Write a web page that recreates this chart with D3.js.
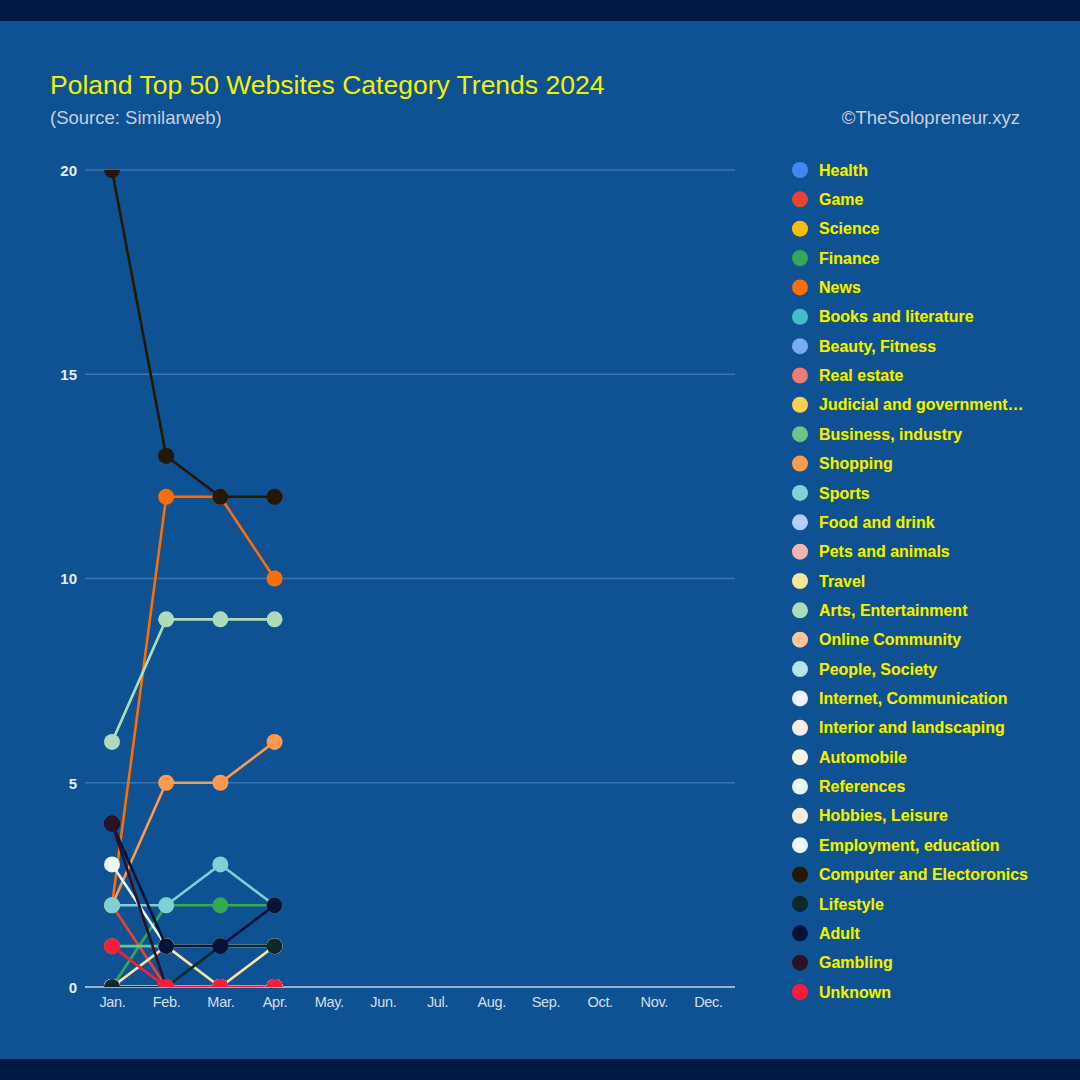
<!DOCTYPE html>
<html>
<head>
<meta charset="utf-8">
<script src="https://cdn.jsdelivr.net/npm/d3@7/dist/d3.min.js"></script>
<style>
  html, body { margin: 0; padding: 0; background: #001a45; }
  svg { display: block; }
</style>
</head>
<body>
<svg id="chart" width="1080" height="1080"></svg>
<script>
const months = ["Jan.", "Feb.", "Mar.", "Apr.", "May.", "Jun.", "Jul.", "Aug.", "Sep.", "Oct.", "Nov.", "Dec."];
const yTicks = [0, 5, 10, 15, 20];
const categories = [
  "Health", "Game", "Science", "Finance", "News", "Books and literature", "Beauty, Fitness",
  "Real estate", "Judicial and government\u2026", "Business, industry", "Shopping", "Sports",
  "Food and drink", "Pets and animals", "Travel", "Arts, Entertainment", "Online Community",
  "People, Society", "Internet, Communication", "Interior and landscaping", "Automobile",
  "References", "Hobbies, Leisure", "Employment, education", "Computer and Electoronics",
  "Lifestyle", "Adult", "Gambling", "Unknown"
];
const colors = [
  "#4285f4", "#ea4335", "#fbbc04", "#34a853", "#ff6d01", "#46bdc6", "#7baaf7",
  "#f07b72", "#fcd04f", "#71c287", "#ff994d", "#7ed1d7",
  "#b3cefb", "#f7b4ae", "#fde49b", "#aedcba", "#ffc599",
  "#b5e3e7", "#ecf3fe", "#fdeceb", "#fff8e6",
  "#e7f5ea", "#fff0e6", "#ecf8f9", "#261800",
  "#0c2a2c", "#081339", "#2b1224", "#ff1a35"
];
// values for Jan..Apr (later months have no data)
const values = [
  [0, 0, 0, 0],    // Health
  [2, 0, 0, 0],    // Game
  [0, 0, 0, 0],    // Science
  [0, 2, 2, 2],    // Finance
  [2, 12, 12, 10], // News
  [0, 0, 0, 0],    // Books and literature
  [0, 0, 0, 0],    // Beauty, Fitness
  [0, 0, 0, 0],    // Real estate
  [0, 0, 0, 0],    // Judicial
  [1, 1, 1, 1],    // Business, industry
  [2, 5, 5, 6],    // Shopping
  [2, 2, 3, 2],    // Sports
  [0, 0, 0, 0],    // Food and drink
  [0, 0, 0, 0],    // Pets and animals
  [0, 1, 0, 1],    // Travel
  [6, 9, 9, 9],    // Arts, Entertainment
  [0, 0, 0, 0],    // Online Community
  [0, 0, 0, 0],    // People, Society
  [0, 0, 0, 0],    // Internet, Communication
  [0, 0, 0, 0],    // Interior and landscaping
  [0, 0, 0, 0],    // Automobile
  [0, 0, 0, 0],    // References
  [0, 0, 0, 0],    // Hobbies, Leisure
  [3, 1, 1, 1],    // Employment, education
  [20, 13, 12, 12],// Computer and Electoronics
  [0, 0, 1, 1],    // Lifestyle
  [4, 1, 1, 2],    // Adult
  [4, 0, 0, 0],    // Gambling
  [1, 0, 0, 0]     // Unknown
];

const FONT = "Liberation Sans, Arial, sans-serif";
const svg = d3.select("#chart");
svg.append("rect").attr("x", 0).attr("y", 0).attr("width", 1080).attr("height", 1080).attr("fill", "#001a45");
svg.append("rect").attr("x", 0).attr("y", 21).attr("width", 1080).attr("height", 1038).attr("fill", "#0e5294");

const plot = { left: 85, right: 735, top: 170, bottom: 987 };
const x = d3.scalePoint().domain(months).range([112, 708]);
const y = d3.scaleLinear().domain([0, 20]).range([plot.bottom, plot.top]);

// Title
svg.append("text").attr("x", 50).attr("y", 94)
  .attr("font-family", FONT).attr("font-size", 26.5)
  .attr("fill", "#f2f200").text("Poland Top 50 Websites Category Trends 2024");
svg.append("text").attr("x", 50).attr("y", 124)
  .attr("font-family", FONT).attr("font-size", 18.5)
  .attr("fill", "#c5d0e0").text("(Source: Similarweb)");
svg.append("text").attr("x", 1020).attr("y", 124).attr("text-anchor", "end")
  .attr("font-family", FONT).attr("font-size", 18.5)
  .attr("fill", "#c5d0e0").text("\u00A9TheSolopreneur.xyz");

// grid
svg.append("g").selectAll("line").data(yTicks.filter(d => d !== 0)).join("line")
  .attr("x1", plot.left).attr("x2", plot.right)
  .attr("y1", d => y(d)).attr("y2", d => y(d))
  .attr("stroke", "#3a74ac").attr("stroke-width", 1.5);
svg.append("line").attr("x1", plot.left).attr("x2", plot.right)
  .attr("y1", y(0)).attr("y2", y(0)).attr("stroke", "#c3d3e6").attr("stroke-width", 1.5);

// y axis labels
const yAxis = d3.axisLeft(y).tickValues(yTicks).tickSize(0).tickPadding(0).tickFormat(d3.format("d"));
const gy = svg.append("g").attr("transform", `translate(77,0)`).call(yAxis);
gy.select(".domain").remove();
gy.selectAll("text").attr("font-family", FONT)
  .attr("font-size", 15).attr("font-weight", "bold").attr("fill", "#e6edf5").attr("dy", "0.35em");

// x axis labels
const xAxis = d3.axisBottom(x).tickSize(0).tickPadding(0);
const gx = svg.append("g").attr("transform", `translate(0,${plot.bottom + 10})`).call(xAxis);
gx.select(".domain").remove();
gx.selectAll("text").attr("font-family", FONT)
  .attr("font-size", 14.5).attr("fill", "#d5dfeb").attr("dy", "0.71em").attr("letter-spacing", "-0.3");

// clip
svg.append("clipPath").attr("id", "clip").append("rect")
  .attr("x", plot.left - 10).attr("y", plot.top).attr("width", plot.right - plot.left + 20)
  .attr("height", plot.bottom - plot.top);

const series = categories.map((c, i) => ({ name: c, color: colors[i], vals: values[i] }));
const line = d3.line().x((d, i) => x(months[i])).y(d => y(d));
const plotG = svg.append("g").attr("clip-path", "url(#clip)");
series.forEach(s => {
  const g = plotG.append("g");
  g.append("path").attr("d", line(s.vals)).attr("fill", "none")
    .attr("stroke", s.color).attr("stroke-width", 2.6).attr("stroke-linejoin", "round");
  g.selectAll("circle").data(s.vals).join("circle")
    .attr("cx", (d, i) => x(months[i])).attr("cy", d => y(d)).attr("r", 8)
    .attr("fill", s.color);
});

// legend
const ly = d3.scalePoint().domain(categories).range([170, 992]);
const items = svg.append("g").selectAll("g").data(series).join("g")
  .attr("transform", d => `translate(800,${ly(d.name)})`);
items.append("circle").attr("r", 8).attr("fill", d => d.color);
items.append("text").attr("x", 19).attr("dy", "0.35em")
  .attr("font-family", FONT).attr("font-size", 16)
  .attr("font-weight", "bold").attr("fill", "#f2f200")
  .attr("stroke", "#3d6a2a").attr("stroke-width", 0.7).attr("paint-order", "stroke")
  .text(d => d.name);
</script>
</body>
</html>
